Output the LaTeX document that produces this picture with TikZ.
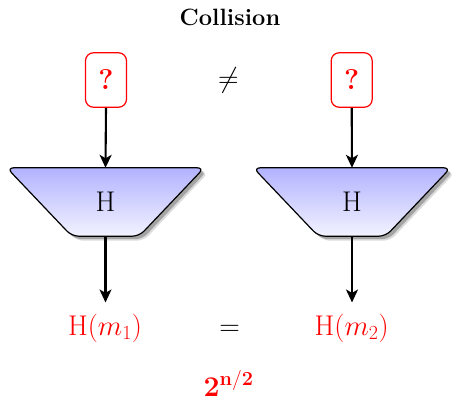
\RequirePackage{fix-cm}
\documentclass[tikz,border=0pt]{standalone}
\usetikzlibrary{arrows.meta,backgrounds}
\tikzset{
  basefont/.style={font=\fontsize{28.5}{34}\selectfont},
  qbox/.style={draw=red, line width=1.2pt, rounded corners=8pt, minimum width=41pt, minimum height=54.5pt, inner sep=0pt, text=red, basefont},
  hbox/.style={minimum width=197pt, minimum height=68pt, inner sep=0pt, basefont},
  outtext/.style={text=red, basefont, inner sep=0pt},
  sym/.style={basefont, inner sep=0pt},
  arr/.style={line width=2.1pt, -{Stealth[length=13pt,width=12pt,inset=3.5pt]}},
  trapfill/.style={draw=black, line width=1.2pt, rounded corners=7pt, top color=blue!30, bottom color=blue!5},
  trapshadow/.style={fill=black, rounded corners=7pt},
}
\begin{document}
\begin{tikzpicture}[x=1pt,y=-1pt]
\useasboundingbox (0,0) rectangle (452,401);
% title
\node[font=\fontsize{23.6}{28}\selectfont\bfseries, inner sep=0pt, anchor=base] (title) at (230,25.5) {Collision};
% question boxes
\node[qbox] (q1) at (106,80) {\textbf{?}};
\node[qbox] (q2) at (351.7,80) {\textbf{?}};
\node[sym] (neq) at (228.5,80) {$\neq$};
% hash nodes
\node[hbox] (h1) at (105.5,202) {H};
\node[hbox] (h2) at (352,202) {H};
\begin{scope}[on background layer]
\foreach \h in {h1,h2}{
  \fill[trapshadow, opacity=0.14] ([shift={(4.5,4.5)}]\h.north west) -- ([shift={(4.5,4.5)}]\h.north east) -- ([shift={(-60.5,4.5)}]\h.south east) -- ([shift={(69.5,4.5)}]\h.south west) -- cycle;
  \fill[trapshadow, opacity=0.25] ([shift={(3,3)}]\h.north west) -- ([shift={(3,3)}]\h.north east) -- ([shift={(-62,3)}]\h.south east) -- ([shift={(68,3)}]\h.south west) -- cycle;
  \path[trapfill] (\h.north west) -- (\h.north east) -- ([xshift=-65pt]\h.south east) -- ([xshift=65pt]\h.south west) -- cycle;
}
\end{scope}
% outputs
\node[outtext, anchor=base] (o1) at (105,335) {H$(m_1)$};
\node[outtext, anchor=base] (o2) at (351.7,335) {H$(m_2)$};
\node[sym, anchor=base] (eq) at (229.7,335) {$=$};
% arrows
\draw[arr] (q1.south) -- (h1.north);
\draw[arr] (q2.south) -- (h2.north);
\draw[arr, shorten >=11pt] (h1.south) -- (h1.south |- o1.north);
\draw[arr, shorten >=11pt] (h2.south) -- (h2.south |- o2.north);
% bottom
\node[text=red, basefont, inner sep=0pt, anchor=base] (cx) at (228.5,396) {$\mathbf{2^{n/2}}$};
\end{tikzpicture}
\end{document}
